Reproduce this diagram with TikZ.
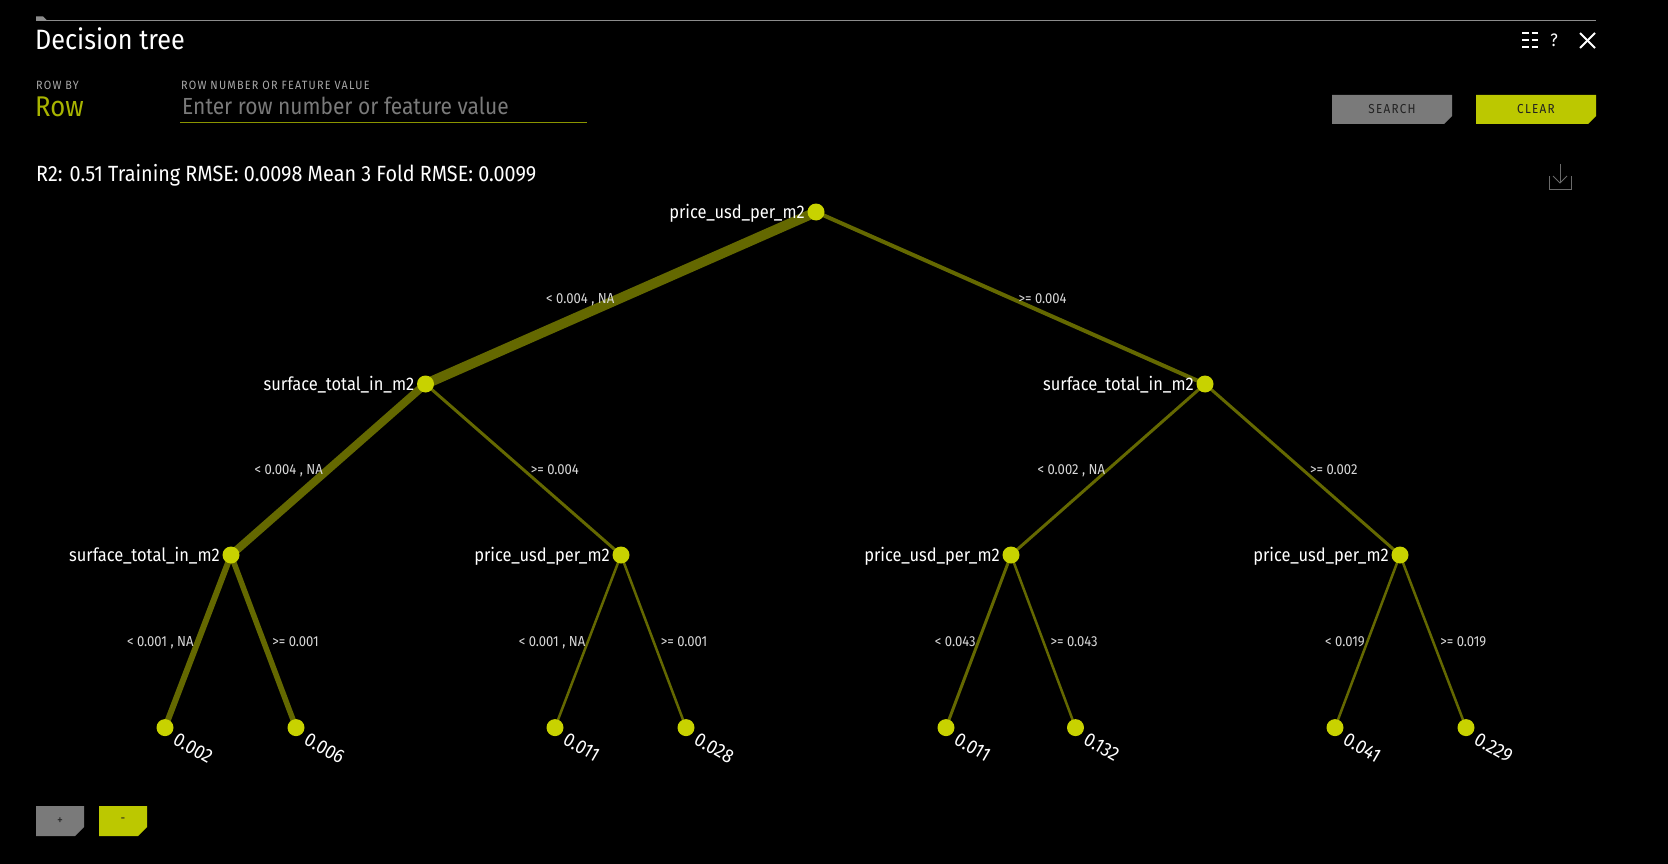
\documentclass[tikz,border=0pt]{standalone}
\usepackage{fontspec}
\setmainfont{Fira Sans}[FakeStretch=0.9]
\newfontfamily\capsfont{Fira Sans}[FakeStretch=0.9,LetterSpace=10]
\usetikzlibrary{calc}
\definecolor{edgec}{HTML}{646800}
\definecolor{nodec}{HTML}{C8D200}
\definecolor{btnyel}{HTML}{BCC800}
\definecolor{btngray}{HTML}{7A7A7A}
\definecolor{rowc}{HTML}{A8B400}
\definecolor{ulinec}{HTML}{8A9400}
\definecolor{linegray}{HTML}{8C8C8C}
\definecolor{labgray}{HTML}{D8D8D8}
\definecolor{phgray}{HTML}{7A7A7A}
\definecolor{capgray}{HTML}{A8A8A8}
\definecolor{btntext}{HTML}{222222}
\definecolor{icongray}{HTML}{6A6A6A}
\pgfdeclarelayer{bg}\pgfdeclarelayer{edges}\pgfsetlayers{bg,edges,main}
\begin{document}
\begin{tikzpicture}[x=1pt,y=-1pt,
  tnode/.style={circle,fill=nodec,minimum size=17pt,inner sep=0pt},
  edge/.style={draw=edgec},
  elab/.style={text=labgray,font=\fontsize{14.5}{14.5}\selectfont,inner sep=0pt,yshift=-5pt},
  elabL/.style={elab,anchor=base east,xshift=-1.5pt},
  elabR/.style={elab,anchor=base west,xshift=6pt},
  nlab/.style={anchor=base east,text=white,font=\fontsize{18.3}{18.3}\selectfont,inner sep=0pt},
  llab/.style={anchor=west,rotate=-30,text=white,font=\fontsize{19.5}{19.5}\selectfont,inner sep=0pt},
  capt/.style={anchor=base west,text=capgray,font=\capsfont\fontsize{12}{12}\selectfont,inner sep=0pt},
  btnlab/.style={text=btntext,font=\capsfont\fontsize{13}{13}\selectfont,inner sep=0pt},
  iconline/.style={draw=white,line width=1.8pt},
]
\begin{pgfonlayer}{bg}
\fill[black] (0,0) rectangle (1668,864);
\end{pgfonlayer}
\useasboundingbox (0,0) rectangle (1668,864);

% header
\draw[linegray,line width=1pt] (36,20.5) -- (1596,20.5);
\fill[linegray] (36,20.5) -- (36,16.5) -- (43,16.5) -- (47,20.5) -- cycle;
\node[anchor=base west,text=white,font=\fontsize{28}{28}\selectfont,inner sep=0pt] (title) at (35,50) {Decision tree};
\node[capt] (rowby) at (36,90) {ROW BY};
\node[anchor=base west,text=rowc,font=\fontsize{28.5}{28.5}\selectfont,inner sep=0pt] (row) at (35,117) {Row};
\node[capt] (rownum) at (181,90) {ROW NUMBER OR FEATURE VALUE};
\node[anchor=base west,text=phgray,font=\fontsize{23.3}{23.3}\selectfont,inner sep=0pt] (ph) at (182,115) {Enter row number or feature value};
\draw[ulinec,line width=1pt] (180,122.5) -- (587,122.5);

% buttons
\fill[btngray] (1332,95) -- (1452,95) -- (1452,116) -- (1444,124) -- (1332,124) -- cycle;
\node[btnlab] (search) at (1392,109.5) {SEARCH};
\fill[btnyel] (1476,95) -- (1596,95) -- (1596,116) -- (1588,124) -- (1476,124) -- cycle;
\node[btnlab] (clear) at (1536,109.5) {CLEAR};

% top right icons
\foreach \yy in {33,40,47}{
  \draw[iconline,line width=2pt] (1522,\yy) -- (1528.5,\yy);
  \draw[iconline,line width=2pt] (1531.5,\yy) -- (1538,\yy);
}
\node[text=white,font=\fontsize{18}{18}\selectfont,inner sep=0pt] (help) at (1554,40) {?};
\draw[iconline] (1580,33) -- (1595,48);
\draw[iconline] (1580,48) -- (1595,33);

% stats
\node[anchor=base west,text=white,font=\fontsize{22}{22}\selectfont,inner sep=0pt] (stats) at (36,182) {R2: 0.51 Training RMSE: 0.0098 Mean 3 Fold RMSE: 0.0099};

% download icon
\draw[icongray,line width=1pt] (1549,176) -- (1549,189) -- (1571,189) -- (1571,176);
\draw[icongray,line width=1pt] (1560,164) -- (1560,183);
\draw[icongray,line width=1pt] (1553,176) -- (1560,183) -- (1567,176);

% bottom buttons
\fill[btngray] (36,806) -- (84,806) -- (84,827) -- (75,836) -- (36,836) -- cycle;
\node[btnlab] (plus) at (60,821) {+};
\fill[btnyel] (99,806) -- (147,806) -- (147,827) -- (138,836) -- (99,836) -- cycle;
\node[btnlab] (minus) at (123,820) {-};

% tree nodes
\node[tnode] (root) at (816,212) {};
\node[tnode] (l1) at (425.5,384) {};
\node[tnode] (r1) at (1205,384) {};
\node[tnode] (ll) at (231,555) {};
\node[tnode] (lr) at (621,555) {};
\node[tnode] (rl) at (1011,555) {};
\node[tnode] (rr) at (1400,555) {};
\node[tnode] (a1) at (165,727.6) {};
\node[tnode] (a2) at (296,727.6) {};
\node[tnode] (a3) at (555,727.6) {};
\node[tnode] (a4) at (686,727.6) {};
\node[tnode] (a5) at (946,727.6) {};
\node[tnode] (a6) at (1075.5,727.6) {};
\node[tnode] (a7) at (1335,727.6) {};
\node[tnode] (a8) at (1466,727.6) {};

% node labels
\node[nlab] (root-t) at ([xshift=-11pt,yshift=-6pt]root.center) {price\_usd\_per\_m2};
\node[nlab] (l1-t) at ([xshift=-11pt,yshift=-6pt]l1.center) {surface\_total\_in\_m2};
\node[nlab] (r1-t) at ([xshift=-11pt,yshift=-6pt]r1.center) {surface\_total\_in\_m2};
\node[nlab] (ll-t) at ([xshift=-11pt,yshift=-6pt]ll.center) {surface\_total\_in\_m2};
\node[nlab] (lr-t) at ([xshift=-11pt,yshift=-6pt]lr.center) {price\_usd\_per\_m2};
\node[nlab] (rl-t) at ([xshift=-11pt,yshift=-6pt]rl.center) {price\_usd\_per\_m2};
\node[nlab] (rr-t) at ([xshift=-11pt,yshift=-6pt]rr.center) {price\_usd\_per\_m2};

% leaf labels
\node[llab] (a1-t) at ([xshift=10pt,yshift=-10pt]a1.center) {0.002};
\node[llab] (a2-t) at ([xshift=10pt,yshift=-10pt]a2.center) {0.006};
\node[llab] (a3-t) at ([xshift=10pt,yshift=-10pt]a3.center) {0.011};
\node[llab] (a4-t) at ([xshift=10pt,yshift=-10pt]a4.center) {0.028};
\node[llab] (a5-t) at ([xshift=10pt,yshift=-10pt]a5.center) {0.011};
\node[llab] (a6-t) at ([xshift=10pt,yshift=-10pt]a6.center) {0.132};
\node[llab] (a7-t) at ([xshift=10pt,yshift=-10pt]a7.center) {0.041};
\node[llab] (a8-t) at ([xshift=10pt,yshift=-10pt]a8.center) {0.229};

% edges
\begin{pgfonlayer}{edges}
\draw[edge,line width=10pt] (root.center) -- node[elabL] {< 0.004 , NA} (l1.center);
\draw[edge,line width=4pt] (root.center) -- node[elabR] {>= 0.004} (r1.center);
\draw[edge,line width=8pt] (l1.center) -- node[elabL] {< 0.004 , NA} (ll.center);
\draw[edge,line width=3pt] (l1.center) -- node[elabR] {>= 0.004} (lr.center);
\draw[edge,line width=3pt] (r1.center) -- node[elabL] {< 0.002 , NA} (rl.center);
\draw[edge,line width=3pt] (r1.center) -- node[elabR] {>= 0.002} (rr.center);
\draw[edge,line width=6pt] (ll.center) -- node[elabL] {< 0.001 , NA} (a1.center);
\draw[edge,line width=5.5pt] (ll.center) -- node[elabR] {>= 0.001} (a2.center);
\draw[edge,line width=2.5pt] (lr.center) -- node[elabL] {< 0.001 , NA} (a3.center);
\draw[edge,line width=2.5pt] (lr.center) -- node[elabR] {>= 0.001} (a4.center);
\draw[edge,line width=3pt] (rl.center) -- node[elabL] {< 0.043} (a5.center);
\draw[edge,line width=2.5pt] (rl.center) -- node[elabR] {>= 0.043} (a6.center);
\draw[edge,line width=2.5pt] (rr.center) -- node[elabL] {< 0.019} (a7.center);
\draw[edge,line width=2.5pt] (rr.center) -- node[elabR] {>= 0.019} (a8.center);
\end{pgfonlayer}
\end{tikzpicture}
\end{document}
